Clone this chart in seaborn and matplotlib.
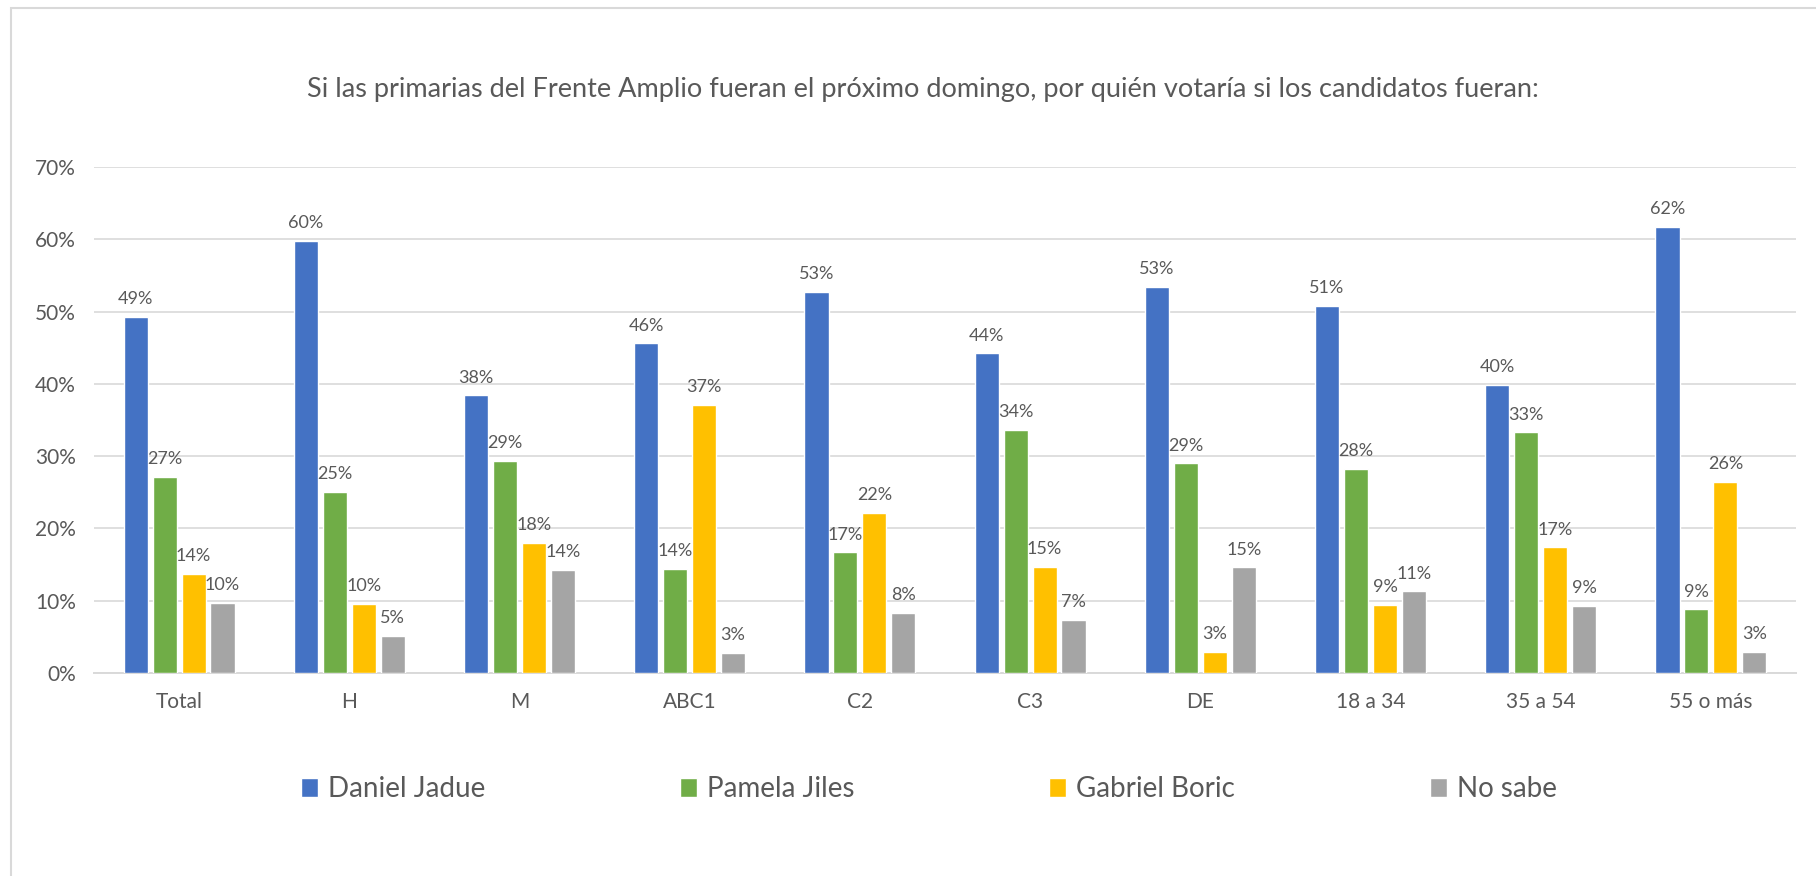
import pandas as pd
import matplotlib
matplotlib.use('Agg')
import matplotlib.pyplot as plt
import seaborn as sns
from matplotlib.patches import Rectangle

# data (percent)
categories = ['Total', 'H', 'M', 'ABC1', 'C2', 'C3', 'DE', '18 a 34', '35 a 54', '55 o más']
series_names = ['Daniel Jadue', 'Pamela Jiles', 'Gabriel Boric', 'No sabe']
jadue = [49.3, 59.8, 38.4, 45.6, 52.7, 44.2, 53.4, 50.8, 39.9, 61.7]
jiles = [27.1, 25.1, 29.3, 14.4, 16.7, 33.6, 29.0, 28.2, 33.3, 8.8]
boric = [13.7, 9.6, 18.0, 37.1, 22.2, 14.7, 2.9, 9.4, 17.4, 26.4]
no_sabe = [9.7, 5.1, 14.3, 2.8, 8.3, 7.4, 14.6, 11.3, 9.3, 2.9]
y_ticks = [0, 10, 20, 30, 40, 50, 60, 70]

title = 'Si las primarias del Frente Amplio fueran el próximo domingo, por quién votaría si los candidatos fueran:'
colors = ['#4472C4', '#70AD47', '#FFC000', '#A5A5A5']
text_color = '#595959'
grid_color = '#D9D9D9'

# long table for seaborn
rows = []
for name, vals in zip(series_names, [jadue, jiles, boric, no_sabe]):
    for cat, v in zip(categories, vals):
        rows.append({'cat': cat, 'serie': name, 'valor': v})
df = pd.DataFrame(rows)

sns.set_style('white')
plt.rcParams['font.family'] = ['Lato', 'DejaVu Sans']

fig = plt.figure(figsize=(18.16, 8.76), dpi=100)
ax = fig.add_axes([94 / 1816, 1 - 673 / 876, (1796 - 94) / 1816, (673 - 167) / 876])

sns.barplot(data=df, x='cat', y='valor', hue='serie', order=categories,
            hue_order=series_names, palette=colors, width=0.68, gap=0.17,
            errorbar=None, saturation=1, ax=ax, zorder=3)

# data labels on top of bars
for cont, vals in zip(ax.containers, [jadue, jiles, boric, no_sabe]):
    ax.bar_label(cont, labels=[f'{round(v):.0f}%' for v in vals], padding=7,
                 fontsize=13, color=text_color)

ax.set_ylim(0, 70)
ax.set_yticks(y_ticks)
ax.set_yticklabels([f'{t}%' for t in y_ticks])
ax.set_xlim(-0.5, len(categories) - 0.5)
ax.set_xlabel('')
ax.set_ylabel('')
ax.yaxis.grid(True, color=grid_color, linewidth=1.2, zorder=0)
ax.set_axisbelow(True)
for s in ['top', 'right', 'left']:
    ax.spines[s].set_visible(False)
ax.spines['bottom'].set_color(grid_color)
ax.spines['bottom'].set_linewidth(1.4)
ax.tick_params(axis='both', length=0, labelsize=15, colors=text_color)
ax.tick_params(axis='x', pad=14)
ax.tick_params(axis='y', pad=13)

# legend under the chart
handles, labels = ax.get_legend_handles_labels()
ax.get_legend().remove()
fig.legend(handles, labels, loc='center', bbox_to_anchor=(929 / 1816, 1 - 789 / 876),
           ncol=4, frameon=False, fontsize=20, labelcolor=text_color,
           handlelength=0.62, handleheight=0.65, handletextpad=0.36, columnspacing=7.0)

fig.text(923 / 1816, 1 - 89 / 876, title, ha='center', va='center',
         fontsize=19.5, color=text_color)

# chart area frame (only top and left edge show in the crop)
fig.patches.append(Rectangle((11 / 1816, -0.1), 2, 1.1 - 8 / 876, transform=fig.transFigure,
                             fill=False, edgecolor=grid_color, linewidth=1.5))

fig.savefig('out.png', dpi=100, facecolor='white')
